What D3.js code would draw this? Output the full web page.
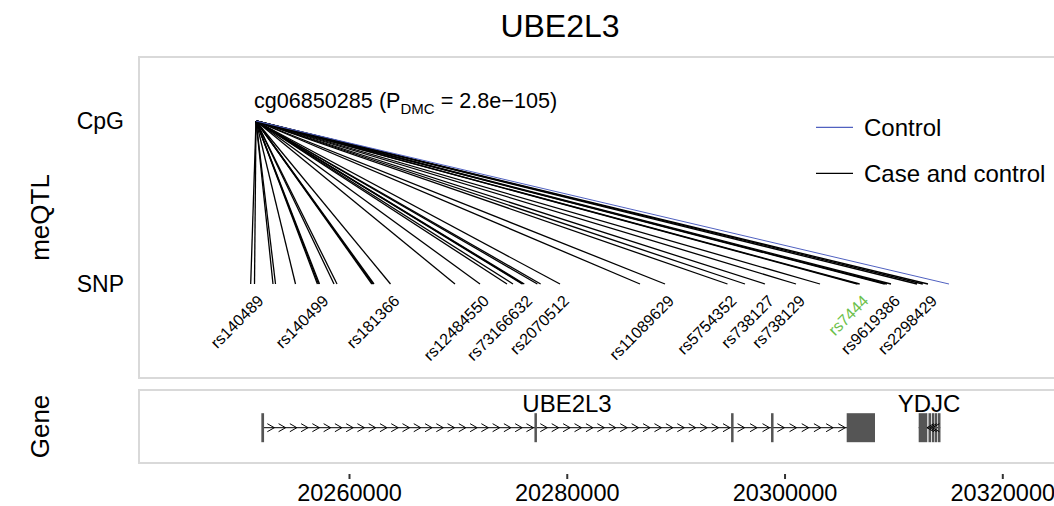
<!DOCTYPE html>
<html>
<head>
<meta charset="utf-8">
<script src="https://cdn.jsdelivr.net/npm/d3@7/dist/d3.min.js"></script>
<style>
  html, body { margin: 0; padding: 0; background: #fff; }
  svg { display: block; }
  text { font-family: "Liberation Sans", Arial, Helvetica, sans-serif; fill: #000; }
</style>
</head>
<body>
<svg id="chart" width="1054" height="506"></svg>
<script>
// ---------------- data ----------------
const title = "UBE2L3";
const cpgName = "cg06850285";
const cpgP = "2.8e\u2212105";
const cpgPos = 20251459;

// meQTL SNP positions (bp) and the group each association belongs to
const snpPos = [
  20250972, 20251321, 20253020, 20253250, 20255087,
  20257100, 20257200, 20257291, 20258622, 20258898,
  20262100, 20262200, 20262296, 20263811, 20269735,
  20272031, 20274511, 20275062, 20275900, 20276000,
  20276100, 20277300, 20277600, 20279378, 20286725,
  20289021, 20294761, 20296369, 20298205, 20301052,
  20303257, 20306700, 20306900, 20309200, 20309400,
  20309777, 20312165, 20312700, 20313175, 20315104
];
const snpGroup = snpPos.map((d, i) => i === snpPos.length - 1 ? "Control" : "Case and control");

// labelled SNPs
const labelNames = ["rs140489", "rs140499", "rs181366", "rs12484550", "rs73166632", "rs2070512",
  "rs11089629", "rs5754352", "rs738127", "rs738129", "rs7444", "rs9619386", "rs2298429"];
const labelPos = [20251321, 20257291, 20263811, 20272031, 20276000, 20279378,
  20289021, 20294761, 20298205, 20301052, 20306900, 20309777, 20313175];
const labelHighlight = ["rs7444"];

// legend
const legendGroups = ["Control", "Case and control"];

// genes: exons [start, end], strand
const geneNames = ["UBE2L3", "YDJC"];
const geneStrand = ["+", "-"];
const geneStart = [20252074, 20312321];
const geneEnd = [20308308, 20314305];
const ube2l3Exons = [[20251950, 20252200], [20277030, 20277260], [20295090, 20295320],
  [20298760, 20298990], [20305709, 20308308]];
const ydjcExons = [[20312321, 20313111], [20313221, 20313405], [20313524, 20313681],
  [20313800, 20313965], [20314094, 20314305]];
const geneExons = [ube2l3Exons, ydjcExons];
const ydjcChevrons = [20313400, 20313650, 20313900];

const tickValues = [20260000, 20280000, 20300000, 20320000];

// ---------------- layout ----------------
const svg = d3.select("#chart");
const x = d3.scaleLinear().domain([20260000, 20320000]).range([349, 1002.3]);
const y = d3.scalePoint().domain(["CpG", "SNP"]).range([121, 284]);

const panelLeft = 139, panelRight = 1060;
const topPanel = { y0: 57, y1: 378 };
const genePanel = { y0: 390, y1: 463 };
const colors = { "Control": "#5061c0", "Case and control": "#000000" };
const green = "#6cbf4a";
const font = "'Liberation Sans', Arial, Helvetica, sans-serif";

// title
svg.append("text").attr("x", 560).attr("y", 37).attr("text-anchor", "middle")
  .style("font-size", "32px").text(title);

// panels
[topPanel, genePanel].forEach(p => {
  svg.append("rect").attr("x", panelLeft).attr("y", p.y0)
    .attr("width", panelRight - panelLeft).attr("height", p.y1 - p.y0)
    .attr("fill", "none").attr("stroke", "#d9d9d9").attr("stroke-width", 2);
});

// strip labels (rotated)
svg.append("text").attr("transform", `translate(49,${(topPanel.y0 + topPanel.y1) / 2}) rotate(-90)`)
  .attr("text-anchor", "middle").style("font-size", "26px").text("meQTL");
svg.append("text").attr("transform", `translate(49,${(genePanel.y0 + genePanel.y1) / 2}) rotate(-90)`)
  .attr("text-anchor", "middle").style("font-size", "26px").text("Gene");

// y labels
svg.selectAll("text.ylab").data(y.domain()).join("text").attr("class", "ylab")
  .attr("x", 124).attr("y", d => y(d) + 8).attr("text-anchor", "end")
  .style("font-size", "23px").text(d => d);

// connection lines
const links = snpPos.map((p, i) => ({ pos: p, group: snpGroup[i] }));
svg.append("g").selectAll("line").data(links).join("line")
  .attr("x1", x(cpgPos)).attr("y1", y("CpG"))
  .attr("x2", d => x(d.pos)).attr("y2", y("SNP"))
  .attr("stroke", d => colors[d.group])
  .attr("stroke-width", d => d.group === "Control" ? 1 : 1.3);

// CpG annotation
const ann = svg.append("text").attr("x", x(cpgPos) - 2).attr("y", 108).style("font-size", "21.6px");
ann.append("tspan").text(cpgName + " (P");
ann.append("tspan").attr("dy", 6).style("font-size", "15px").text("DMC");
ann.append("tspan").attr("dy", -6).text(" = " + cpgP + ")");

// SNP labels
svg.append("g").selectAll("text").data(labelNames).join("text")
  .attr("transform", (d, i) => `translate(${x(labelPos[i]) + 10},${302}) rotate(-45)`)
  .attr("text-anchor", "end")
  .style("font-size", "16px")
  .style("fill", d => labelHighlight.includes(d) ? green : "#000")
  .text(d => d);

// legend
const leg = svg.append("g");
legendGroups.forEach((g, i) => {
  const ly = 127.3 + i * 46;
  leg.append("line").attr("x1", 816).attr("x2", 853).attr("y1", ly).attr("y2", ly)
    .attr("stroke", colors[g]).attr("stroke-width", 1.2);
  leg.append("text").attr("x", 864).attr("y", ly + 8.5).style("font-size", "24px").text(g);
});

// genes
const gy = 427.7, gh = 29;
const gG = svg.append("g");
geneNames.forEach((name, gi) => {
  const s = x(geneStart[gi]), e = x(geneEnd[gi]);
  gG.append("line").attr("x1", s).attr("x2", e).attr("y1", gy).attr("y2", gy)
    .attr("stroke", "#000").attr("stroke-width", 1);
  const ex = geneExons[gi];
  let chevs = [];
  if (geneStrand[gi] === "+") {
    for (let k = 0; k < ex.length - 1; k++) {
      const a = x(ex[k][1]), b = x(ex[k + 1][0]);
      const n = Math.max(1, Math.round((b - a) / 11.3));
      const step = (b - a) / n;
      for (let j = 0; j < n; j++) chevs.push(a + step * (j + 0.6));
    }
  } else {
    chevs = ydjcChevrons.map(x);
  }
  gG.selectAll(null).data(ex).join("rect")
    .attr("x", d => x(d[0])).attr("y", gy - gh / 2)
    .attr("width", d => Math.max(2.5, x(d[1]) - x(d[0]))).attr("height", gh)
    .attr("fill", "#555555");
  gG.selectAll(null).data(chevs).join("path")
    .attr("d", c => geneStrand[gi] === "+"
      ? `M${c - 3.5},${gy - 4}L${c + 3.5},${gy}L${c - 3.5},${gy + 4}`
      : `M${c + 3.5},${gy - 4}L${c - 3.5},${gy}L${c + 3.5},${gy + 4}`)
    .attr("fill", "none").attr("stroke", "#000").attr("stroke-width", 1);
  gG.append("text").attr("y", 411.5).attr("text-anchor", "middle").style("font-size", "24px")
    .attr("x", gi === 0 ? 567 : 929)
    .text(name);
});

// axis
const axis = d3.axisBottom(x).tickValues(tickValues).tickFormat(d3.format("d")).tickSize(5).tickPadding(5);
const ax = svg.append("g").attr("transform", "translate(0,474)").call(axis);
ax.select(".domain").remove();
ax.selectAll(".tick line").attr("stroke", "#333").attr("stroke-width", 2);
ax.selectAll(".tick text").style("font-size", "23.5px").style("font-family", font).attr("fill", "#000")
  .attr("dy", 0).attr("y", 27);
</script>
</body>
</html>
